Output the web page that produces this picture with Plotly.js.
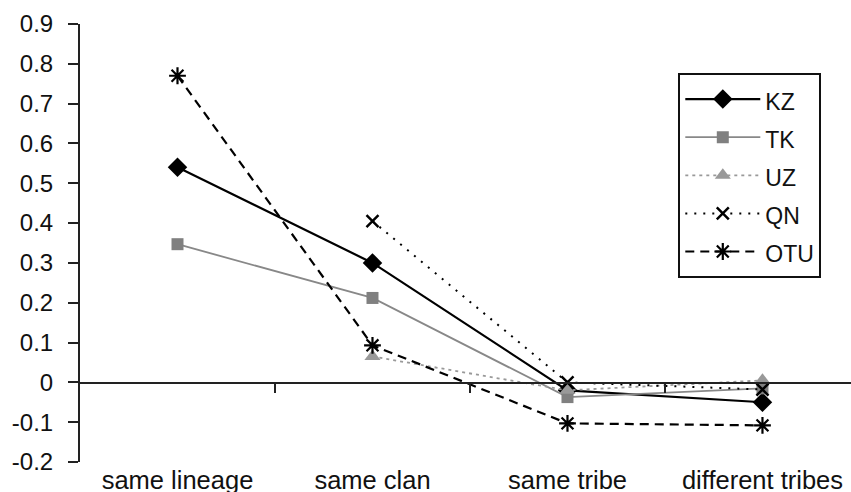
<!DOCTYPE html>
<html>
<head>
<meta charset="utf-8">
<script src="https://cdn.plot.ly/plotly-3.0.1.min.js"></script>
<style>html,body{margin:0;padding:0;background:#fff;}#chart{width:851px;height:492px;}</style>
</head>
<body>
<div id="chart"></div>
<script>
var categories = ["same lineage", "same clan", "same tribe", "different tribes"];
var seriesNames = ["KZ", "TK", "UZ", "QN", "OTU"];
var kzValues = [0.54, 0.30, -0.02, -0.05];
var tkValues = [0.347, 0.212, -0.037, -0.015];
var uzValues = [null, 0.065, -0.02, 0.005];
var qnValues = [null, 0.405, 0.0, -0.018];
var otuValues = [0.77, 0.093, -0.103, -0.108];
var yTickValues = [-0.2, -0.1, 0, 0.1, 0.2, 0.3, 0.4, 0.5, 0.6, 0.7, 0.8, 0.9];
var yTickLabels = ["-0.2", "-0.1", "0", "0.1", "0.2", "0.3", "0.4", "0.5", "0.6", "0.7", "0.8", "0.9"];

var idx = categories.map(function(c, i){ return i; });
function nm(s){ return '<span style="font-size:23px">' + s + '</span>'; }

var traces = [
  {x: idx, y: kzValues, name: nm(seriesNames[0]), mode: 'lines+markers',
   line: {color: '#000', width: 2.2},
   marker: {symbol: 'diamond', size: 15, color: '#000'}},
  {x: idx, y: tkValues, name: nm(seriesNames[1]), mode: 'lines+markers',
   line: {color: '#888', width: 1.8},
   marker: {symbol: 'square', size: 12, color: '#808080'}},
  {x: idx, y: uzValues, name: nm(seriesNames[2]), mode: 'lines+markers', connectgaps: false,
   line: {color: '#999', width: 1.8, dash: '3px,4px'},
   marker: {symbol: 'triangle-up', size: 14, color: '#999'}},
  {x: idx, y: qnValues, name: nm(seriesNames[3]), mode: 'lines+markers',
   line: {color: '#000', width: 2, dash: '2px,7px'},
   marker: {symbol: 'x-thin-open', size: 12, color: '#000', line: {width: 2.5, color: '#000'}}},
  {x: idx, y: otuValues, name: nm(seriesNames[4]), mode: 'lines+markers', xaxis: 'x2', yaxis: 'y',
   line: {color: '#000', width: 2.2, dash: '9px,6px'},
   marker: {symbol: 'asterisk-open', size: 14, color: '#000', line: {width: 2.2, color: '#000'}}}
];

var xr = [-0.5, 3.454];
var layout = {
  width: 851, height: 492,
  margin: {l: 80, r: 0, t: 24, b: 30},
  paper_bgcolor: '#fff', plot_bgcolor: '#fff',
  font: {family: 'Liberation Sans, Arial, sans-serif', color: '#111'},
  showlegend: true,
  legend: {
    x: 0.776, y: 0.888, xanchor: 'left', yanchor: 'top',
    bordercolor: '#111', borderwidth: 2, bgcolor: '#fff',
    font: {size: 27, color: '#111'}, itemwidth: 75
  },
  xaxis: {
    range: xr, tickmode: 'array', tickvals: idx, ticktext: categories,
    showline: false, ticks: '', showgrid: false, zeroline: false,
    tickfont: {size: 25.5, color: '#111'}
  },
  xaxis2: {
    overlaying: 'x', anchor: 'free', position: 0.18, range: xr,
    tickmode: 'array', tickvals: [0.5, 1.5, 2.5, 3.5],
    showticklabels: false, showline: true, linecolor: '#222', linewidth: 2,
    ticks: 'outside', ticklen: 9, tickwidth: 2, tickcolor: '#222',
    showgrid: false, zeroline: false
  },
  yaxis: {
    range: [-0.2, 0.9], tickmode: 'array', tickvals: yTickValues, ticktext: yTickLabels,
    showline: true, linecolor: '#222', linewidth: 2,
    ticks: 'outside', ticklen: 10, tickwidth: 2, tickcolor: '#222',
    showgrid: false, zeroline: false, ticklabelstandoff: 10,
    tickfont: {size: 24, color: '#111'}
  }
};

Plotly.newPlot('chart', traces, layout, {staticPlot: true, displayModeBar: false});
</script>
</body>
</html>
